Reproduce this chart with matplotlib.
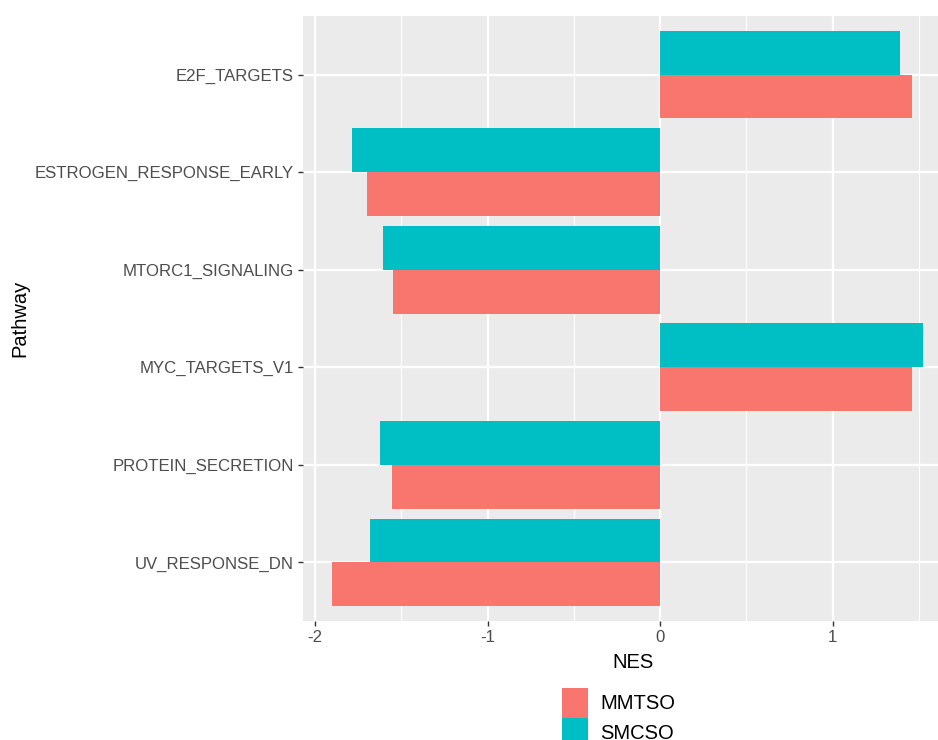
import matplotlib
matplotlib.use("Agg")
import matplotlib.pyplot as plt
from matplotlib.patches import Patch
import numpy as np

# Pathways, listed bottom to top as drawn
pathways = ["UV_RESPONSE_DN", "PROTEIN_SECRETION", "MYC_TARGETS_V1",
            "MTORC1_SIGNALING", "ESTROGEN_RESPONSE_EARLY", "E2F_TARGETS"]
groups = ["MMTSO", "SMCSO"]
nes_mmtso = [-1.900, -1.556, 1.458, -1.548, -1.697, 1.459]
nes_smcso = [-1.683, -1.624, 1.526, -1.608, -1.787, 1.390]
colors = {"MMTSO": "#F8766D", "SMCSO": "#00BFC4"}
xticks = [-2, -1, 0, 1]

plt.rcParams["font.family"] = ["Liberation Sans", "DejaVu Sans"]

W, H = 938, 740
fig = plt.figure(figsize=(W / 100, H / 100), dpi=100)

# panel in pixel coordinates (right side extends beyond the canvas)
px_left, px_right, px_top, px_bottom = 302.7, 953.0, 16.0, 621.0
ax = fig.add_axes([px_left / W, 1 - px_bottom / H,
                   (px_right - px_left) / W, (px_bottom - px_top) / H])
ax.set_facecolor("#EBEBEB")
for s in ax.spines.values():
    s.set_visible(False)

y = np.arange(1, len(pathways) + 1)
bw = 0.45
ax.barh(y - bw / 2, nes_mmtso, height=bw, color=colors["MMTSO"], zorder=3)
ax.barh(y + bw / 2, nes_smcso, height=bw, color=colors["SMCSO"], zorder=3)

# ggplot-style expansion
allv = np.array(nes_mmtso + nes_smcso + [0])
lo, hi = allv.min(), allv.max()
pad = 0.05 * (hi - lo)
ax.set_xlim(lo - pad, hi + pad)
ax.set_ylim(1 - 0.6, len(pathways) + 0.6)

# grid lines
for xv in np.arange(-2.5, 2.6, 0.5):
    major = abs(xv - round(xv)) < 1e-9
    ax.axvline(xv, color="white", lw=1.6 if major else 0.8, zorder=1)
for yv in y:
    ax.axhline(yv, color="white", lw=1.6, zorder=1)

ax.set_xticks(xticks)
ax.set_xticklabels([str(v) for v in xticks])
ax.set_yticks(y)
ax.set_yticklabels(pathways)
ax.tick_params(axis="both", colors="#333333", length=3.8, width=1.0,
               labelcolor="#4D4D4D", labelsize=12.1, pad=2.5)
for lbl in ax.get_yticklabels():
    lbl.set_va("center_baseline")

ax.set_xlabel("NES", fontsize=14.5, color="black", labelpad=5)
fig.text(20 / W, 1 - 318.5 / H, "Pathway", rotation=90, fontsize=14.5,
         ha="center", va="center", color="black")
ax.xaxis.set_label_coords((633 - px_left) / (px_right - px_left),
                          (px_bottom - 662) / (px_bottom - px_top))
ax.xaxis.label.set_va("center")

handles = [Patch(facecolor=colors[g], edgecolor="none") for g in groups]
fig.legend(handles, groups, loc="upper left",
           bbox_to_anchor=(561.7 / W, 1 - 688 / H),
           frameon=False, fontsize=14.5, handlelength=1.33, handleheight=1.9,
           labelspacing=0.0, handletextpad=0.6, borderpad=0, borderaxespad=0)

fig.savefig("out.png", dpi=100)
